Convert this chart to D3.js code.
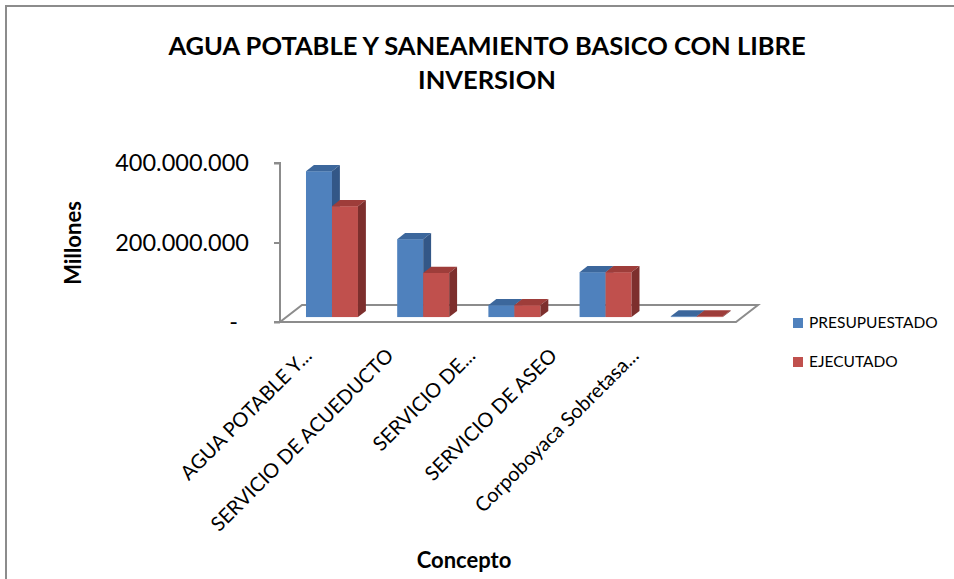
<!DOCTYPE html>
<html>
<head>
<meta charset="utf-8">
<script src="https://cdn.jsdelivr.net/npm/d3@7"></script>
<style>
  body { margin: 0; background: #fff; }
  svg { display: block; font-family: Lato, "Open Sans", sans-serif; }
</style>
</head>
<body>
<svg id="chart" width="954" height="579"></svg>
<script>
// data (pesos)
const categories = [
  "AGUA POTABLE Y...",
  "SERVICIO DE ACUEDUCTO",
  "SERVICIO DE...",
  "SERVICIO DE ASEO",
  "Corpoboyaca Sobretasa..."
];
const series = ["PRESUPUESTADO", "EJECUTADO"];
const presupuestado = [367000000, 196000000, 30000000, 113000000, 2000000];
const ejecutado = [279000000, 111000000, 30000000, 113000000, 2000000];
const yTicks = [0, 200000000, 400000000];

const colors = {
  PRESUPUESTADO: { front: "#4f81bd", top: "#3c679c", side: "#335787" },
  EJECUTADO: { front: "#c0504d", top: "#9e3d3a", side: "#7d2f2d" }
};

const svg = d3.select("#chart");
const W = 954, H = 579;

// outer chart border (only top and left show in the picture)
svg.append("path")
  .attr("d", `M6,${H} L6,6 L${W},6`)
  .attr("fill", "none")
  .attr("stroke", "#8c8c8c")
  .attr("stroke-width", 2);

// title
svg.append("text")
  .attr("x", 487).attr("y", 55)
  .attr("text-anchor", "middle")
  .attr("font-weight", "bold").attr("font-size", 25.5)
  .text("AGUA POTABLE Y SANEAMIENTO BASICO CON LIBRE");
svg.append("text")
  .attr("x", 487).attr("y", 89)
  .attr("text-anchor", "middle")
  .attr("font-weight", "bold").attr("font-size", 25.5)
  .text("INVERSION");

// scales (front plane of the 3D box)
const x = d3.scaleBand().domain(categories).range([280, 736])
  .paddingInner(0.43).paddingOuter(0.215);
const x1 = d3.scaleBand().domain(series).range([0, x.bandwidth()]);
const y = d3.scaleLinear().domain([0, 400000000]).range([322, 163]);

// depth of the floor and where bars sit in it
const depth = { dx: 22, dy: -17 };
const f0 = 0.29, f1 = 0.65;

const fmt = d3.formatLocale({ decimal: ",", thousands: ".", grouping: [3], currency: ["$", ""] }).format(",.0f");

// floor
const x0 = x.range()[0], xEnd = x.range()[1], yBase = y(0);
svg.append("path")
  .attr("d", `M${x0},${yBase} L${xEnd},${yBase} L${xEnd + depth.dx},${yBase + depth.dy} L${x0 + depth.dx},${yBase + depth.dy} Z`)
  .attr("fill", "#fff")
  .attr("stroke", "#8c8c8c")
  .attr("stroke-width", 2);

// y axis
const yAxis = d3.axisLeft(y).tickValues(yTicks).tickSize(6)
  .tickFormat(d => d === 0 ? "-" : fmt(d));
const gy = svg.append("g").attr("transform", `translate(${x0},0)`).call(yAxis);
gy.select(".domain").attr("stroke", "#8c8c8c").attr("stroke-width", 2)
  .attr("d", `M-6,${y(400000000)}H0V${yBase}H-6`);
gy.selectAll(".tick line").attr("stroke", "#8c8c8c").attr("stroke-width", 2);
gy.selectAll(".tick text")
  .attr("x", d => d === 0 ? -42 : -31)
  .attr("font-size", 23.5)
  .attr("font-family", "Lato, sans-serif")
  .attr("fill", "#000");

// y title
svg.append("text")
  .attr("transform", "translate(81,243) rotate(-90)")
  .attr("text-anchor", "middle")
  .attr("font-weight", "bold").attr("font-size", 22)
  .text("Millones");

// bars
const rows = categories.map((c, i) => ({ cat: c, vals: [
  { s: "PRESUPUESTADO", v: presupuestado[i] },
  { s: "EJECUTADO", v: ejecutado[i] }
] }));

const fx = depth.dx * f0, fy = depth.dy * f0;
const bx = depth.dx * (f1 - f0), by = depth.dy * (f1 - f0);
const bw = x1.bandwidth();

rows.forEach(r => {
  const g = svg.append("g");
  r.vals.forEach(d => {
    const left = x(r.cat) + x1(d.s) + fx;
    const right = left + bw;
    const top = y(d.v) + fy;
    const bottom = yBase + fy;
    const c = colors[d.s];
    g.append("rect")
      .attr("x", left).attr("y", top)
      .attr("width", bw).attr("height", bottom - top)
      .attr("fill", c.front);
    g.append("path")
      .attr("d", `M${left},${top} L${right},${top} L${right + bx},${top + by} L${left + bx},${top + by} Z`)
      .attr("fill", c.top);
    g.append("path")
      .attr("d", `M${right},${top} L${right + bx},${top + by} L${right + bx},${bottom + by} L${right},${bottom} Z`)
      .attr("fill", c.side);
  });
});

// category labels (Excel spaces them a little tighter than the bars)
const xl = d3.scalePoint().domain(categories).range([313, 640]);
svg.append("g").selectAll("text")
  .data(categories)
  .join("text")
  .attr("transform", d => `translate(${xl(d)},357) rotate(-45)`)
  .attr("text-anchor", "end")
  .attr("font-size", 20)
  .text(d => d);

// x title
svg.append("text")
  .attr("x", 464).attr("y", 568)
  .attr("text-anchor", "middle")
  .attr("font-weight", "bold").attr("font-size", 22)
  .text("Concepto");

// legend
const legend = svg.append("g").selectAll("g")
  .data(series)
  .join("g")
  .attr("transform", (d, i) => `translate(793,${318 + i * 39})`);
legend.append("rect")
  .attr("width", 10).attr("height", 10)
  .attr("fill", d => colors[d].front);
legend.append("text")
  .attr("x", 16).attr("y", 10)
  .attr("font-size", 15.5)
  .text(d => d);
</script>
</body>
</html>
